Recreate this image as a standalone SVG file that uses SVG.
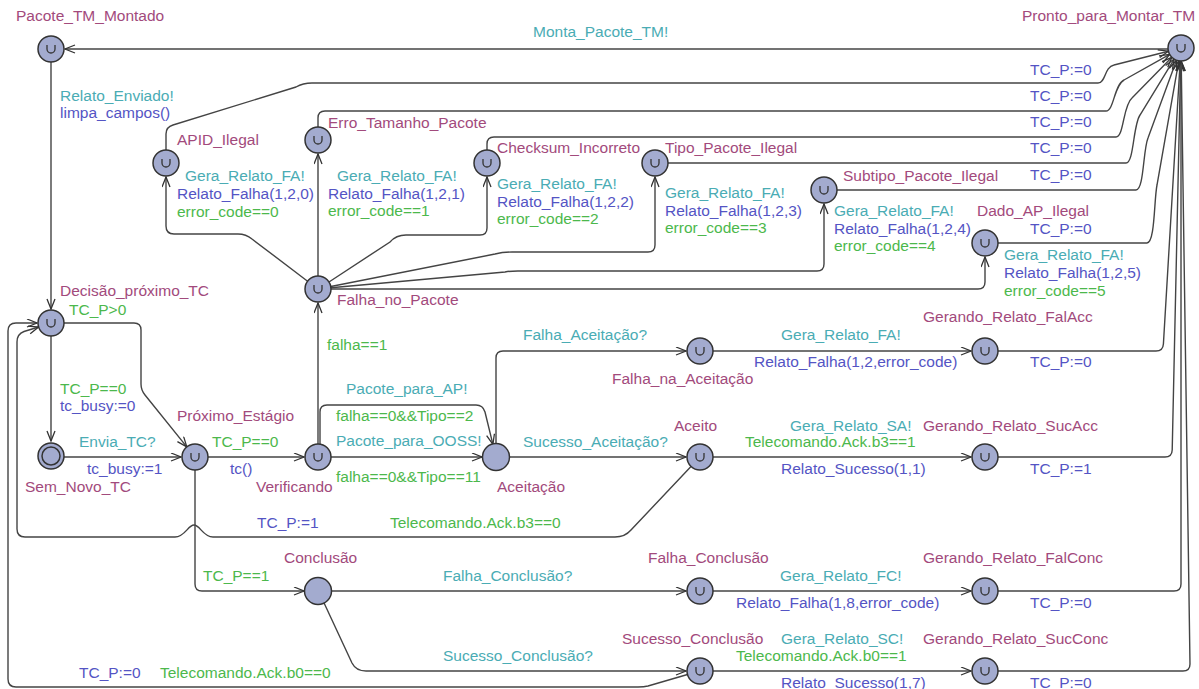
<svg xmlns="http://www.w3.org/2000/svg" xmlns:xlink="http://www.w3.org/1999/xlink" width="1199" height="689" viewBox="0 0 1199 689">
<style>
text{font-family:"Liberation Sans",Arial,sans-serif;font-size:15.5px}
.nm{fill:#a24a7c}.sy{fill:#4aacb4}.up{fill:#5454c4}.gd{fill:#4cb84c}
.n{fill:#a3abcf;stroke:#333;stroke-width:1.5}
#edges path{fill:none;stroke:#444;stroke-width:1.4;marker-end:url(#ar)}
</style>
<defs>
<marker id="ar" markerWidth="13" markerHeight="10" refX="11" refY="4.5" orient="auto" markerUnits="userSpaceOnUse"><path d="M1,0.5 L11,4.5 L1,8.5" fill="none" stroke="#333" stroke-width="1.3"/></marker>
<path id="um" d="M-4,-4V0A4,4 0 0 0 4,0V-4" fill="none" stroke="#333" stroke-width="1.3"/>
</defs>
<rect width="1199" height="689" fill="#fff"/>
<g id="edges">
<g><path d="M1168,49 L65,49"/><text class="sy" x="533" y="37">Monta_Pacote_TM!</text></g>
<g><path d="M51,62 L51,309"/><text class="sy" x="60" y="101">Relato_Enviado!</text><text class="up" x="60" y="118">limpa_campos()</text></g>
<g><path d="M166,150 L166,134 Q166,127 173,125 L296,87 Q303,83 312,83 L1098,83 C1106,83 1104,67 1114,65 L1168.4,51.2"/><text class="up" x="1030" y="75">TC_P:=0</text></g>
<g><path d="M318,127 L318,118 Q318,111 325,111 L1106,111 C1114,111 1114,85 1124,80 L1169.7,54.4"/><text class="up" x="1030" y="101">TC_P:=0</text></g>
<g><path d="M487,150 L487,144 Q487,137 494,137 L1116,137 C1124,137 1123,105 1132,98 L1171.9,57.3"/><text class="up" x="1030" y="127">TC_P:=0</text></g>
<g><path d="M668,163 L1126,163 C1134,163 1133,125 1140,115 L1174.2,59.1"/><text class="up" x="1030" y="153">TC_P:=0</text></g>
<g><path d="M837,190 L1136,190 C1144,190 1143,150 1148,138 L1176.5,60.2"/><text class="up" x="1030" y="180">TC_P:=0</text></g>
<g><path d="M998,243 L1147,243 C1155,243 1154,200 1157,185 L1178.8,60.8"/><text class="up" x="1030" y="234">TC_P:=0</text></g>
<g><path d="M998,351 L1156,351 Q1163,351 1163.4,344 L1180.2,61"/><text class="up" x="1030" y="367">TC_P:=0</text></g>
<g><path d="M998,457 L1165,457 Q1172,457 1172.2,450 L1180.7,61"/><text class="up" x="1030" y="474">TC_P:=1</text></g>
<g><path d="M998,591 L1174,591 Q1181,591 1181,584 L1181,61"/><text class="up" x="1030" y="608">TC_P:=0</text></g>
<g><path d="M998,671 L1183,671 Q1190,671 1190,664 L1181.2,61"/><text class="up" x="1030" y="688">TC_P:=0</text></g>
<g><path d="M307.6,281.2 L252,239 Q246,234 238,234 L174,234 Q166,234 166,226 L166,177"/><text class="sy" x="185" y="181">Gera_Relato_FA!</text><text class="up" x="177" y="199">Relato_Falha(1,2,0)</text><text class="gd" x="177" y="217">error_code==0</text></g>
<g><path d="M318,276 L318,154"/><text class="sy" x="337" y="181">Gera_Relato_FA!</text><text class="up" x="328" y="199">Relato_Falha(1,2,1)</text><text class="gd" x="328" y="216">error_code==1</text></g>
<g><path d="M329,282 L390,242 Q396,235 406,235 L480,235 Q487,235 487,228 L487,177"/><text class="sy" x="497" y="189">Gera_Relato_FA!</text><text class="up" x="497" y="207">Relato_Falha(1,2,2)</text><text class="gd" x="497" y="224">error_code==2</text></g>
<g><path d="M330.8,286.5 L495,254 Q503,252 512,252 L648,252 Q655,252 655,245 L655,177"/><text class="sy" x="665" y="198">Gera_Relato_FA!</text><text class="up" x="665" y="216">Relato_Falha(1,2,3)</text><text class="gd" x="665" y="233">error_code==3</text></g>
<g><path d="M331,287.8 L505,272 Q510,271 518,271 L817,271 Q824,271 824,264 L824,204"/><text class="sy" x="834" y="216">Gera_Relato_FA!</text><text class="up" x="834" y="234">Relato_Falha(1,2,4)</text><text class="gd" x="834" y="251">error_code==4</text></g>
<g><path d="M331,289 L978,289 Q985,289 985,282 L985,257"/><text class="sy" x="1004" y="260">Gera_Relato_FA!</text><text class="up" x="1004" y="278">Relato_Falha(1,2,5)</text><text class="gd" x="1004" y="296">error_code==5</text></g>
<g><path d="M64,323 L134,323 Q141,323 141,330 L141,384 Q141,390 145,395 L186.8,446.9"/><text class="gd" x="69" y="315">TC_P&gt;0</text></g>
<g><path d="M51,336 L51,441"/><text class="gd" x="60" y="394">TC_P==0</text><text class="up" x="60" y="411">tc_busy:=0</text></g>
<g><path d="M64,457 L181,457"/><text class="sy" x="79" y="447">Envia_TC?</text><text class="up" x="87" y="474">tc_busy:=1</text></g>
<g><path d="M208,457 L304,457"/><text class="gd" x="212" y="447">TC_P==0</text><text class="up" x="230" y="474">tc()</text></g>
<g><path d="M318,444 L318,303"/><text class="gd" x="327" y="350">falha==1</text></g>
<g><path d="M320,444 L320,412 Q320,405 327,405 L476,405 Q483,405 485,412 L492.9,444.4"/><text class="sy" x="346" y="394">Pacote_para_AP!</text><text class="gd" x="336" y="421">falha==0&amp;&amp;Tipo==2</text></g>
<g><path d="M331,457 L482,457"/><text class="sy" x="336" y="446">Pacote_para_OOSS!</text><text class="gd" x="336" y="482">falha==0&amp;&amp;Tipo==11</text></g>
<g><path d="M496,443 L496,358 Q496,351 503,351 L686,351"/><text class="sy" x="523" y="340">Falha_Aceitação?</text></g>
<g><path d="M510,457 L686,457"/><text class="sy" x="523" y="447">Sucesso_Aceitação?</text></g>
<g><path d="M713,351 L971,351"/><text class="sy" x="781" y="340">Gera_Relato_FA!</text><text class="up" x="754" y="367">Relato_Falha(1,2,error_code)</text></g>
<g><path d="M713,457 L971,457"/><text class="sy" x="790" y="431">Gera_Relato_SA!</text><text class="gd" x="745" y="447">Telecomando.Ack.b3==1</text><text class="up" x="781" y="474">Relato_Sucesso(1,1)</text></g>
<g><path d="M691,466.5 L631,530 Q625,537 615,537 L213,537 C203,537 200,525 194,525 C188,525 185,537 175,537 L25,537 Q17,537 17,529 L17,342 Q17,334 24,331.5 L38.6,327"/><text class="up" x="257" y="528">TC_P:=1</text><text class="gd" x="390" y="528">Telecomando.Ack.b3==0</text></g>
<g><path d="M195,470 L195,584 Q195,591 202,591 L304,591"/><text class="gd" x="203" y="581">TC_P==1</text></g>
<g><path d="M332,591 L686,591"/><text class="sy" x="443" y="581">Falha_Conclusão?</text></g>
<g><path d="M713,591 L971,591"/><text class="sy" x="780" y="581">Gera_Relato_FC!</text><text class="up" x="736" y="608">Relato_Falha(1,8,error_code)</text></g>
<g><path d="M323.6,602 L352,663 Q356,671 366,671 L686,671"/><text class="sy" x="443" y="661">Sucesso_Conclusão?</text></g>
<g><path d="M713,671 L971,671"/><text class="sy" x="781" y="644">Gera_Relato_SC!</text><text class="gd" x="736" y="661">Telecomando.Ack.b0==1</text><text class="up" x="781" y="688">Relato_Sucesso(1,7)</text></g>
<g><path d="M687.5,674.5 L648,686 Q644,687 638,687 L16,687 Q8,687 8,679 L8,331 Q8,323 16,323 L37,323"/><text class="up" x="79" y="678">TC_P:=0</text><text class="gd" x="160" y="678">Telecomando.Ack.b0==0</text></g>
</g>
<g id="Pacote_TM_Montado"><circle class="n" cx="51" cy="49" r="13"/><use xlink:href="#um" x="51" y="49"/><text class="nm" x="16" y="21">Pacote_TM_Montado</text></g>
<g id="Pronto_para_Montar_TM"><circle class="n" cx="1181" cy="48" r="13"/><use xlink:href="#um" x="1181" y="48"/><text class="nm" x="1022" y="21">Pronto_para_Montar_TM</text></g>
<g id="APID_Ilegal"><circle class="n" cx="166" cy="163" r="13"/><use xlink:href="#um" x="166" y="163"/><text class="nm" x="177" y="145">APID_Ilegal</text></g>
<g id="Erro_Tamanho_Pacote"><circle class="n" cx="318" cy="140" r="13"/><use xlink:href="#um" x="318" y="140"/><text class="nm" x="328" y="128">Erro_Tamanho_Pacote</text></g>
<g id="Checksum_Incorreto"><circle class="n" cx="487" cy="163" r="13"/><use xlink:href="#um" x="487" y="163"/><text class="nm" x="497" y="153">Checksum_Incorreto</text></g>
<g id="Tipo_Pacote_Ilegal"><circle class="n" cx="655" cy="163" r="13"/><use xlink:href="#um" x="655" y="163"/><text class="nm" x="665" y="153">Tipo_Pacote_Ilegal</text></g>
<g id="Subtipo_Pacote_Ilegal"><circle class="n" cx="824" cy="190" r="13"/><use xlink:href="#um" x="824" y="190"/><text class="nm" x="843" y="181">Subtipo_Pacote_Ilegal</text></g>
<g id="Dado_AP_Ilegal"><circle class="n" cx="985" cy="243" r="13"/><use xlink:href="#um" x="985" y="243"/><text class="nm" x="977" y="216">Dado_AP_Ilegal</text></g>
<g id="Falha_no_Pacote"><circle class="n" cx="318" cy="289" r="13"/><use xlink:href="#um" x="318" y="289"/><text class="nm" x="337" y="305">Falha_no_Pacote</text></g>
<g id="Decisao_proximo_TC"><circle class="n" cx="51" cy="323" r="13"/><use xlink:href="#um" x="51" y="323"/><text class="nm" x="60" y="296">Decisão_próximo_TC</text></g>
<g id="Sem_Novo_TC"><circle class="n" cx="51" cy="456" r="13"/><circle class="n" cx="51" cy="456" r="9"/><text class="nm" x="25" y="492">Sem_Novo_TC</text></g>
<g id="Proximo_Estagio"><circle class="n" cx="195" cy="457" r="13"/><use xlink:href="#um" x="195" y="457"/><text class="nm" x="177" y="421">Próximo_Estágio</text></g>
<g id="Verificando"><circle class="n" cx="318" cy="457" r="13"/><use xlink:href="#um" x="318" y="457"/><text class="nm" x="256" y="492">Verificando</text></g>
<g id="Aceitacao"><circle class="n" cx="496" cy="457" r="13.5"/><text class="nm" x="497" y="492">Aceitação</text></g>
<g id="Falha_na_Aceitacao"><circle class="n" cx="700" cy="351" r="13"/><use xlink:href="#um" x="700" y="351"/><text class="nm" x="612" y="384">Falha_na_Aceitação</text></g>
<g id="Aceito"><circle class="n" cx="700" cy="457" r="13"/><use xlink:href="#um" x="700" y="457"/><text class="nm" x="674" y="431">Aceito</text></g>
<g id="Gerando_Relato_FalAcc"><circle class="n" cx="985" cy="351" r="13"/><use xlink:href="#um" x="985" y="351"/><text class="nm" x="923" y="322">Gerando_Relato_FalAcc</text></g>
<g id="Gerando_Relato_SucAcc"><circle class="n" cx="985" cy="457" r="13"/><use xlink:href="#um" x="985" y="457"/><text class="nm" x="923" y="431">Gerando_Relato_SucAcc</text></g>
<g id="Conclusao"><circle class="n" cx="318" cy="591" r="13.5"/><text class="nm" x="284" y="563">Conclusão</text></g>
<g id="Falha_Conclusao"><circle class="n" cx="700" cy="591" r="13"/><use xlink:href="#um" x="700" y="591"/><text class="nm" x="648" y="563">Falha_Conclusão</text></g>
<g id="Gerando_Relato_FalConc"><circle class="n" cx="985" cy="591" r="13"/><use xlink:href="#um" x="985" y="591"/><text class="nm" x="923" y="563">Gerando_Relato_FalConc</text></g>
<g id="Sucesso_Conclusao"><circle class="n" cx="700" cy="671" r="13"/><use xlink:href="#um" x="700" y="671"/><text class="nm" x="622" y="644">Sucesso_Conclusão</text></g>
<g id="Gerando_Relato_SucConc"><circle class="n" cx="985" cy="671" r="13"/><use xlink:href="#um" x="985" y="671"/><text class="nm" x="923" y="644">Gerando_Relato_SucConc</text></g>
</svg>
